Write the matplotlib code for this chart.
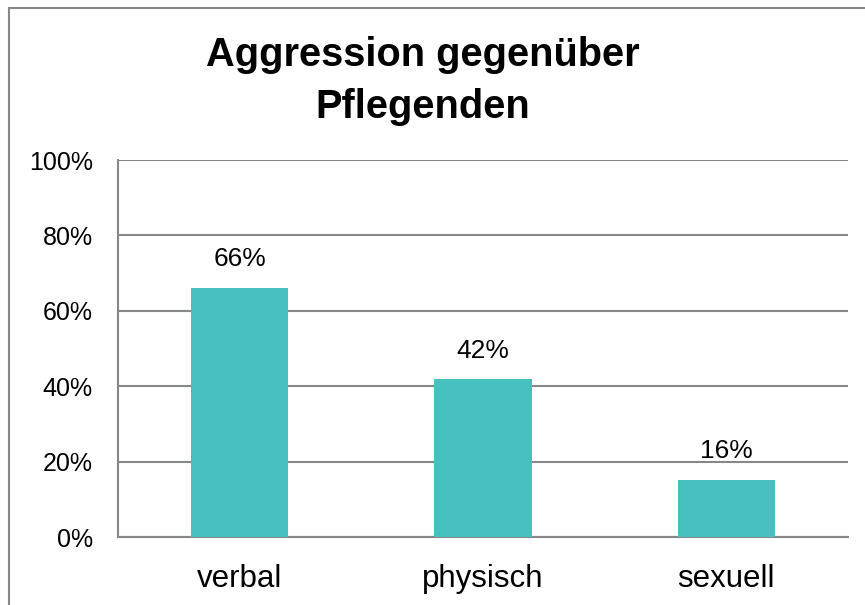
import matplotlib.pyplot as plt
from matplotlib.patches import Rectangle

# data
categories = ['verbal', 'physisch', 'sexuell']
values = [66.1, 41.9, 15.2]
value_labels = ['66%', '42%', '16%']
y_ticks = [0, 20, 40, 60, 80, 100]
title = 'Aggression gegenüber\nPflegenden'

bar_color = '#47C1BF'
grid_color = '#878787'

plt.rcParams['font.family'] = ['Liberation Sans', 'DejaVu Sans']

fig = plt.figure(figsize=(8.65, 6.05), dpi=100)
ax = fig.add_axes([0.1364, 0.1119, 0.8439, 0.6236])

# outer chart border (cut off at right and bottom)
fig.patches.append(Rectangle((9 / 865, -0.1), 1.2, 1 - 8 / 605 + 0.1,
                             transform=fig.transFigure, fill=False,
                             edgecolor=grid_color, linewidth=1.5))

x = range(len(categories))
ax.bar(x, values, width=0.4, color=bar_color, zorder=3)
for xi, v, lab in zip(x, values, value_labels):
    ax.annotate(lab, (xi, v), xytext=(0, 12), textcoords='offset points',
                ha='center', va='bottom', fontsize=19)

ax.set_xlim(-0.5, 2.5)
ax.set_ylim(0, 100)
ax.set_yticks(y_ticks)
ax.set_yticklabels([f'{t}%' for t in y_ticks], fontsize=18)
ax.set_xticks(list(x))
ax.set_xticklabels(categories, fontsize=22.5)
ax.tick_params(axis='both', length=0)
ax.tick_params(axis='y', pad=18)
ax.tick_params(axis='x', pad=19)
ax.yaxis.grid(True, color=grid_color, linewidth=1.5, zorder=0)

for side in ['top', 'right']:
    ax.spines[side].set_visible(False)
for side in ['left', 'bottom']:
    ax.spines[side].set_color(grid_color)
    ax.spines[side].set_linewidth(1.5)

fig.text(423 / 865, 1 - 36 / 605, title, ha='center', va='top',
         fontsize=28.6, fontweight='bold', linespacing=1.45)

fig.savefig('out.png', dpi=100)
